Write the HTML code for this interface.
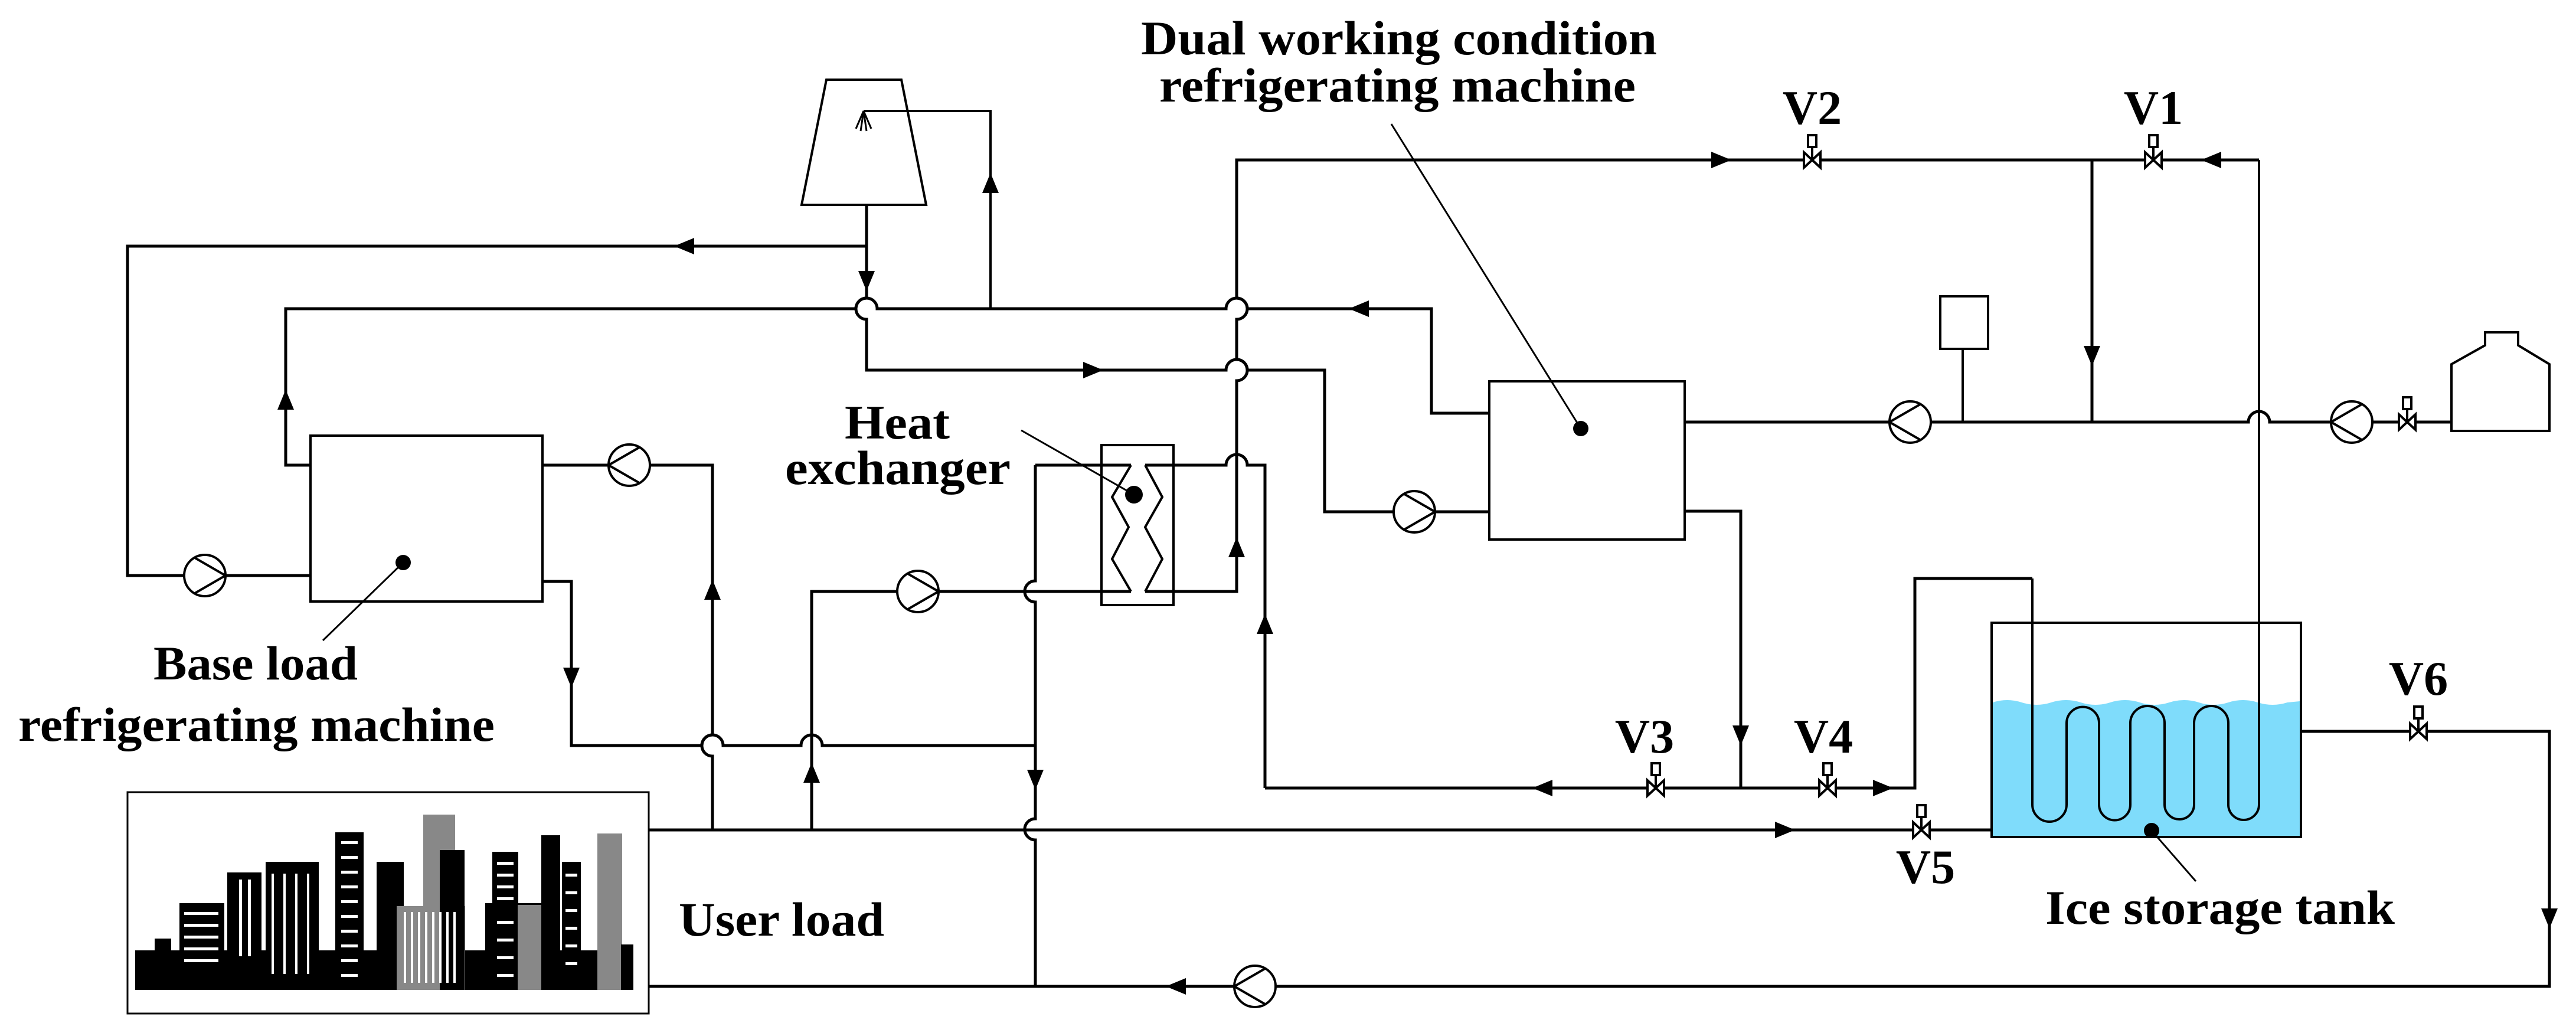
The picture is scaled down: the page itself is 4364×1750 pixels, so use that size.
<!DOCTYPE html>
<html><head><meta charset="utf-8"><style>html,body{margin:0;padding:0;background:#fff}svg{display:block}</style></head>
<body>
<svg width="4364" height="1750" viewBox="0 0 4364 1750" xmlns="http://www.w3.org/2000/svg">
<defs>
<path id="ar" d="M0,0 L-34,-14 L-34,14 Z" fill="#000"/>
<g id="pL"><circle r="35" fill="#fff" stroke="#000" stroke-width="4"/><path d="M-35,0 L17.5,-30.3 M-35,0 L17.5,30.3" stroke="#000" stroke-width="4" fill="none"/></g>
<g id="pR"><circle r="35" fill="#fff" stroke="#000" stroke-width="4"/><path d="M35,0 L-17.5,-30.3 M35,0 L-17.5,30.3" stroke="#000" stroke-width="4" fill="none"/></g>
<g id="vv"><path d="M-14,-13 L14,13 L14,-13 L-14,13 Z" fill="#fff" stroke="#000" stroke-width="4"/><path d="M0,0 V-22" stroke="#000" stroke-width="4"/><rect x="-7" y="-42" width="14" height="20" fill="#fff" stroke="#000" stroke-width="4"/></g>
</defs>
<g fill="none" stroke="#000" stroke-width="5">
<path d="M1400,135 L1527,135 L1569,347 L1358,347 Z" stroke-width="4"/>
<path d="M1463,188 H1678 V523" stroke-width="4"/>
<path d="M1463,188 L1450,218 M1463,188 L1458,222 M1463,188 L1468,222 M1463,188 L1476,218" stroke-width="3"/>
<path d="M1468,347 V505 A18,18 0 0 0 1468,541 V627 H2077 A18,18 0 0 1 2113,627 H2244 V867 H2523"/>
<path d="M1468,417 H216 V975 H526"/>
<path d="M2523,700 H2425 V523 H2113 A18,18 0 0 0 2077,523 H1486 A18,18 0 0 0 1450,523 H484 V788 H526"/>
<rect x="526" y="738" width="393" height="281" stroke-width="4"/>
<path d="M919,788 H1207 V1245 A18,18 0 0 0 1207,1281 V1405"/>
<path d="M919,985 H968 V1263 H1189 A18,18 0 0 1 1225,1263 H1357 A18,18 0 0 1 1393,1263 H1754"/>
<path d="M1754,788 V984 A18,18 0 0 0 1754,1020 V1387 A18,18 0 0 0 1754,1423 V1671"/>
<path d="M1375,1405 V1002 H1916 M1940,1002 H2095 V645 A18,18 0 0 0 2095,609 V541 A18,18 0 0 0 2095,505 V271 H3827"/>
<path d="M1754,788 H1916 M1940,788 H2077 A18,18 0 0 1 2113,788 H2143 V1335"/>
<rect x="1866" y="754" width="122" height="271" stroke-width="4"/>
<path d="M1916,788 L1884,842 L1912,893 L1884,947 L1916,1002 M1940,788 L1969,842 L1940,893 L1969,947 L1940,1002" stroke-width="4"/>
<rect x="2523" y="646" width="331" height="268" stroke-width="4"/>
<path d="M2854,715 H3809 A18,18 0 0 1 3845,715 H4153"/>
<path d="M3544,271 V715"/>
<rect x="3287" y="502" width="81" height="89" stroke-width="4"/>
<path d="M3325,591 V715" stroke-width="4"/>
<path d="M4153,730 V617 L4210,585 V563 H4266 V585 L4319,617 V730 Z" stroke-width="4"/>
<path d="M2854,866 H2949 V1335"/>
<path d="M2143,1335 H3244 V980 H3443"/>
<path d="M3376,1190 Q3400,1182 3425,1190 T3475,1190 T3525,1190 T3575,1190 T3625,1190 T3675,1190 T3725,1190 T3775,1190 T3825,1190 T3875,1190 L3896,1188 V1418 H3376 Z" fill="#7fdcfb" stroke="none"/>
<rect x="3374" y="1055" width="524" height="363" stroke-width="4"/>
<path d="M3443,980 V1363 A29,29 0 0 0 3501,1363 V1225 A27.5,27.5 0 0 1 3556,1225 V1363 A26.5,26.5 0 0 0 3609,1363 V1225 A29,29 0 0 1 3667,1225 V1363 A25,25 0 0 0 3717,1363 V1225 A29,29 0 0 1 3775,1225 V1363 A26,26 0 0 0 3827,1363 V271" stroke-width="4"/>
<path d="M1099,1406 H3374"/>
<path d="M3898,1239 H4319 V1671 H1099"/>
<rect x="216" y="1342" width="883" height="375" stroke-width="3"/>
<path d="M2357,210 L2678,726 M1730,729 L1921,838 M547,1085 L683,953 M3645,1407 L3720,1493" stroke-width="3"/>
</g>
<g fill="#000">
<circle cx="2678" cy="726" r="13"/><circle cx="1921" cy="838" r="15"/><circle cx="683" cy="953" r="13"/><circle cx="3645" cy="1407" r="13"/>
</g>
<use href="#ar" transform="translate(1678,293) rotate(-90)"/>
<use href="#ar" transform="translate(1142,417) rotate(180)"/>
<use href="#ar" transform="translate(1468,493) rotate(90)"/>
<use href="#ar" transform="translate(1869,627)"/>
<use href="#ar" transform="translate(484,660) rotate(-90)"/>
<use href="#ar" transform="translate(2285,523) rotate(180)"/>
<use href="#ar" transform="translate(1207,982) rotate(-90)"/>
<use href="#ar" transform="translate(968,1165) rotate(90)"/>
<use href="#ar" transform="translate(1754,1338) rotate(90)"/>
<use href="#ar" transform="translate(1375,1292) rotate(-90)"/>
<use href="#ar" transform="translate(2095,910) rotate(-90)"/>
<use href="#ar" transform="translate(2143,1040) rotate(-90)"/>
<use href="#ar" transform="translate(2933,271)"/>
<use href="#ar" transform="translate(3729,271) rotate(180)"/>
<use href="#ar" transform="translate(3544,620) rotate(90)"/>
<use href="#ar" transform="translate(2949,1263) rotate(90)"/>
<use href="#ar" transform="translate(2596,1335) rotate(180)"/>
<use href="#ar" transform="translate(3207,1335)"/>
<use href="#ar" transform="translate(3041,1406)"/>
<use href="#ar" transform="translate(4319,1573) rotate(90)"/>
<use href="#ar" transform="translate(1975,1671) rotate(180)"/>
<use href="#pR" x="347" y="975"/>
<use href="#pL" x="1066" y="788"/>
<use href="#pR" x="1555" y="1002"/>
<use href="#pR" x="2396" y="867"/>
<use href="#pL" x="3236" y="715"/>
<use href="#pL" x="3984" y="715"/>
<use href="#pL" x="2126" y="1671"/>
<use href="#vv" x="3070" y="271"/>
<use href="#vv" x="3648" y="271"/>
<use href="#vv" x="4078" y="715"/>
<use href="#vv" x="2805" y="1335"/>
<use href="#vv" x="3096" y="1335"/>
<use href="#vv" x="3255" y="1406"/>
<use href="#vv" x="4097" y="1239"/>
<g>
<rect x="229" y="1610" width="844" height="67" fill="#000"/>
<rect x="262" y="1590" width="28" height="87" fill="#000"/>
<rect x="304" y="1530" width="76" height="147" fill="#000"/>
<rect x="385" y="1478" width="58" height="199" fill="#000"/>
<rect x="450" y="1460" width="90" height="217" fill="#000"/>
<rect x="568" y="1410" width="48" height="267" fill="#000"/>
<rect x="717" y="1380" width="54" height="297" fill="#888"/>
<rect x="638" y="1460" width="46" height="217" fill="#000"/>
<rect x="672" y="1535" width="116" height="142" fill="#888"/>
<rect x="745" y="1440" width="42" height="237" fill="#000"/>
<rect x="822" y="1530" width="96" height="147" fill="#000"/>
<rect x="834" y="1443" width="44" height="234" fill="#000"/>
<rect x="877" y="1533" width="40" height="144" fill="#888"/>
<rect x="917" y="1415" width="32" height="262" fill="#000"/>
<rect x="952" y="1460" width="32" height="217" fill="#000"/>
<rect x="1012" y="1412" width="42" height="265" fill="#888"/>
<rect x="1052" y="1600" width="21" height="77" fill="#000"/>
<g fill="#fff">
<rect x="312" y="1545" width="58" height="5"/><rect x="312" y="1565" width="58" height="5"/><rect x="312" y="1585" width="58" height="5"/><rect x="312" y="1605" width="58" height="5"/><rect x="312" y="1625" width="58" height="5"/>
<rect x="405" y="1490" width="5" height="130"/><rect x="420" y="1490" width="5" height="130"/>
<rect x="578" y="1425" width="28" height="5"/><rect x="578" y="1450" width="28" height="5"/><rect x="578" y="1475" width="28" height="5"/><rect x="578" y="1500" width="28" height="5"/><rect x="578" y="1525" width="28" height="5"/><rect x="578" y="1550" width="28" height="5"/><rect x="578" y="1575" width="28" height="5"/><rect x="578" y="1600" width="28" height="5"/><rect x="578" y="1625" width="28" height="5"/><rect x="578" y="1650" width="28" height="5"/>
<rect x="684" y="1545" width="4" height="120"/><rect x="696" y="1545" width="4" height="120"/><rect x="708" y="1545" width="4" height="120"/><rect x="720" y="1545" width="4" height="120"/><rect x="732" y="1545" width="4" height="120"/><rect x="744" y="1545" width="4" height="120"/><rect x="756" y="1545" width="4" height="120"/><rect x="768" y="1545" width="4" height="120"/>
<rect x="842" y="1460" width="28" height="5"/><rect x="842" y="1480" width="28" height="5"/><rect x="842" y="1500" width="28" height="5"/><rect x="842" y="1520" width="28" height="5"/><rect x="842" y="1560" width="28" height="5"/><rect x="842" y="1590" width="28" height="5"/><rect x="842" y="1620" width="28" height="5"/><rect x="842" y="1650" width="28" height="5"/>
<rect x="958" y="1480" width="20" height="5"/><rect x="958" y="1510" width="20" height="5"/><rect x="958" y="1540" width="20" height="5"/><rect x="958" y="1570" width="20" height="5"/><rect x="958" y="1600" width="20" height="5"/><rect x="958" y="1630" width="20" height="5"/>
<rect x="460" y="1480" width="4" height="170"/><rect x="480" y="1480" width="4" height="170"/><rect x="500" y="1480" width="4" height="170"/><rect x="520" y="1480" width="4" height="170"/>
</g>
</g>
<g font-family="'Liberation Serif', serif" font-weight="bold" font-size="82" fill="#000">
<text x="1933" y="92" textLength="874" lengthAdjust="spacingAndGlyphs">Dual working condition</text>
<text x="1964" y="172" textLength="807" lengthAdjust="spacingAndGlyphs">refrigerating machine</text>
<text x="1431" y="743" textLength="178" lengthAdjust="spacingAndGlyphs">Heat</text>
<text x="1330" y="820" textLength="382" lengthAdjust="spacingAndGlyphs">exchanger</text>
<text x="260" y="1151" textLength="346" lengthAdjust="spacingAndGlyphs">Base load</text>
<text x="31" y="1255" textLength="807" lengthAdjust="spacingAndGlyphs">refrigerating machine</text>
<text x="1150" y="1585" textLength="348" lengthAdjust="spacingAndGlyphs">User load</text>
<text x="3465" y="1565" textLength="592" lengthAdjust="spacingAndGlyphs">Ice storage tank</text>
<g text-anchor="middle">
<text x="3070" y="210">V2</text>
<text x="3648" y="210">V1</text>
<text x="2786" y="1275">V3</text>
<text x="3089" y="1275">V4</text>
<text x="3262" y="1496">V5</text>
<text x="4097" y="1177">V6</text>
</g>
</g>
</svg>
</body></html>
